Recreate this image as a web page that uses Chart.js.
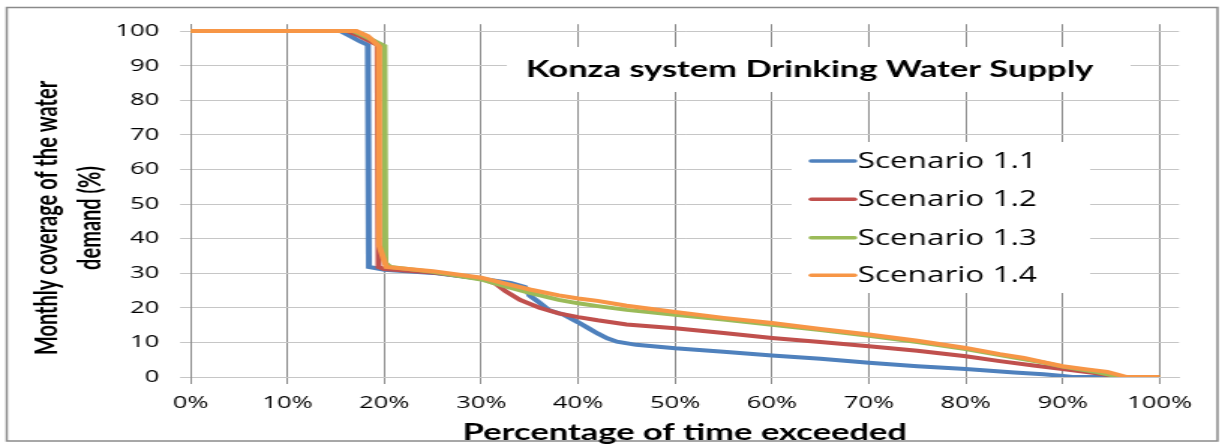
<!DOCTYPE html>
<html lang="en">
<head>
<meta charset="UTF-8">
<title>Konza system Drinking Water Supply</title>
<script src="https://cdn.jsdelivr.net/npm/chart.js"></script>
<style>
    html, body { margin: 0; padding: 0; background: #fff; overflow: hidden; }
    .stage { width: 1225px; height: 447px; overflow: hidden; }
    /* the chart is laid out narrow and stretched to the full width */
    .chart-box { width: 817px; height: 447px; transform: scaleX(1.4994); transform-origin: 0 0; }
</style>
</head>
<body>
<div class="stage">
    <div class="chart-box"><canvas id="fdcChart" width="817" height="447"></canvas></div>
</div>
<script>
// duration curves: % of time exceeded -> monthly coverage (%)
const xTicks = [0, 10, 20, 30, 40, 50, 60, 70, 80, 90, 100];
const yTicks = [0, 10, 20, 30, 40, 50, 60, 70, 80, 90, 100];

const seriesNames = ['Scenario 1.1', 'Scenario 1.2', 'Scenario 1.3', 'Scenario 1.4'];
const seriesColors = ['#4F81BD', '#C0504D', '#9BBB59', '#F79646'];

const s11Time = [0, 15.5, 16.5, 17.5, 18.3, 18.4, 20, 25, 30, 33, 34.5, 35, 36, 37, 38.5, 40, 41, 42, 43, 44, 46, 50, 55, 60, 65, 70, 75, 80, 85, 88, 90, 91, 100];
const s11Cov  = [100, 100, 98.5, 97, 96, 31.8, 31, 30.1, 28.4, 27.2, 26, 23.5, 21.5, 19.3, 18, 15.8, 14.2, 12.6, 11.2, 10.2, 9.3, 8.3, 7.3, 6.2, 5.3, 4.1, 3.1, 2.3, 1.3, 0.8, 0.3, 0, 0];

const s12Time = [0, 16.2, 17.5, 19.3, 19.4, 20, 25, 30, 31.5, 32.5, 34, 36, 38, 40, 42, 45, 50, 55, 60, 65, 70, 75, 80, 83.5, 87, 90, 93.5, 95.9, 100];
const s12Cov  = [100, 100, 98.5, 96, 31.8, 31.2, 30.2, 28.5, 27, 24.8, 22.3, 20, 18.4, 17.3, 16.4, 15.2, 14.1, 12.7, 11.3, 10.1, 8.9, 7.6, 6.0, 4.6, 3.3, 2.3, 1.1, 0, 0];

const s13Time = [0, 16.8, 18, 20, 20.1, 20.6, 25, 30, 32.5, 35, 38, 40, 42, 45, 50, 55, 60, 65, 70, 75, 80, 85, 88, 90, 93.5, 96, 100];
const s13Cov  = [100, 100, 98.5, 95.7, 33, 31.8, 30.4, 28.2, 26.2, 24.3, 22.3, 21.3, 20.5, 19.4, 18.0, 16.6, 15.1, 13.6, 11.9, 10.1, 8.1, 5.6, 4.2, 3.0, 1.4, 0, 0];

const s14Time = [0, 17.1, 18.3, 19.4, 19.45, 20.2, 25, 30, 32.5, 35, 38, 40, 42, 45, 50, 55, 60, 65, 70, 75, 80, 83.5, 86, 88, 90, 92.5, 94.6, 96.6, 100];
const s14Cov  = [100, 100, 98.5, 95.7, 38, 31.8, 30.6, 28.7, 27.0, 25.3, 23.6, 22.7, 22.0, 20.6, 18.8, 17.1, 15.6, 13.9, 12.3, 10.5, 8.4, 6.6, 5.5, 4.3, 3.1, 2.2, 1.5, 0, 0];

const chartTitle = 'Konza system Drinking Water Supply';
const yTitle = ['Monthly coverage of the water', 'demand (%)'];
const xTitle = 'Percentage of time exceeded';

function toPoints(xs, ys) {
    return xs.map((x, i) => ({ x: x, y: ys[i] }));
}

const allTimes = [s11Time, s12Time, s13Time, s14Time];
const allCov = [s11Cov, s12Cov, s13Cov, s14Cov];

const datasets = seriesNames.map((name, i) => ({
    label: name,
    data: toPoints(allTimes[i], allCov[i]),
    borderColor: seriesColors[i],
    backgroundColor: seriesColors[i],
    borderWidth: 4,
    pointRadius: 0,
    tension: 0,
    fill: false,
    order: seriesNames.length - i   // last scenario drawn on top
}));

// frame, inner title, legend and the two-line y title
const decorations = {
    id: 'decorations',
    beforeDraw(chart) {
        const ctx = chart.ctx;
        ctx.save();
        ctx.fillStyle = '#ffffff';
        ctx.fillRect(0, 0, chart.width, chart.height);
        ctx.strokeStyle = '#8a8a8a';
        ctx.lineWidth = 1.5;
        ctx.strokeRect(4.5, 7.5, 807.5, 433.5);
        ctx.restore();
    },
    beforeDatasetsDraw(chart) {
        const ctx = chart.ctx;
        ctx.save();

        // title box
        ctx.fillStyle = '#ffffff';
        ctx.fillRect(338, 47, 416, 45);
        ctx.fillStyle = '#000000';
        ctx.font = 'bold 23px Lato';
        ctx.textAlign = 'center';
        ctx.textBaseline = 'middle';
        ctx.fillText(chartTitle, 540, 70);

        // legend box
        ctx.fillStyle = '#ffffff';
        ctx.fillRect(528, 142, 199, 151);
        const rowY = [161, 199.3, 237.7, 275.3];
        ctx.font = '21px "Open Sans"';
        ctx.textAlign = 'left';
        seriesNames.forEach((name, i) => {
            ctx.strokeStyle = seriesColors[i];
            ctx.lineWidth = 3.5;
            ctx.lineCap = 'round';
            ctx.beginPath();
            ctx.moveTo(541, rowY[i]);
            ctx.lineTo(570, rowY[i]);
            ctx.stroke();
            ctx.fillStyle = '#000000';
            ctx.fillText(name, 572, rowY[i] + 1);
        });

        // y axis title, two lines
        ctx.font = 'bold 20px Lato';
        ctx.textAlign = 'center';
        ctx.textBaseline = 'alphabetic';
        [[37.8, yTitle[0]], [66.7, yTitle[1]]].forEach(([x, text]) => {
            ctx.save();
            ctx.translate(x, 218);
            ctx.rotate(-Math.PI / 2);
            ctx.fillText(text, 0, 0);
            ctx.restore();
        });

        ctx.restore();
    }
};

const ctx = document.getElementById('fdcChart').getContext('2d');
new Chart(ctx, {
    type: 'line',
    data: { datasets: datasets },
    options: {
        responsive: false,
        animation: false,
        layout: { padding: { top: 23, right: 30.7, left: 0, bottom: 0 } },
        plugins: {
            legend: { display: false },
            tooltip: { enabled: false }
        },
        scales: {
            x: {
                type: 'linear',
                min: 0,
                max: 102,
                afterBuildTicks: (scale) => {
                    scale.ticks = xTicks.map(v => ({ value: v }));
                },
                afterFit: (scale) => { scale.height = 70; },
                ticks: {
                    padding: 9,
                    color: '#000000',
                    font: { family: '"Open Sans"', size: 17 },
                    callback: (v) => v + '%'
                },
                grid: { color: '#8c8c8c', lineWidth: 1, tickLength: 7 },
                border: { color: '#c6c6c6', width: 1 },
                title: {
                    display: true,
                    text: xTitle,
                    color: '#000000',
                    font: { family: 'Lato', size: 23, weight: 'bold' },
                    padding: { top: 1, bottom: 1 }
                }
            },
            y: {
                min: 0,
                max: 102,
                afterBuildTicks: (scale) => {
                    scale.ticks = yTicks.map(v => ({ value: v }));
                },
                afterFit: (scale) => { scale.width = 127.1; },
                ticks: {
                    padding: 14,
                    color: '#000000',
                    font: { family: '"Open Sans"', size: 17 }
                },
                grid: { color: '#c6c6c6', lineWidth: 1, tickLength: 7 },
                border: { color: '#8c8c8c', width: 1 }
            }
        }
    },
    plugins: [decorations]
});
</script>
</body>
</html>
